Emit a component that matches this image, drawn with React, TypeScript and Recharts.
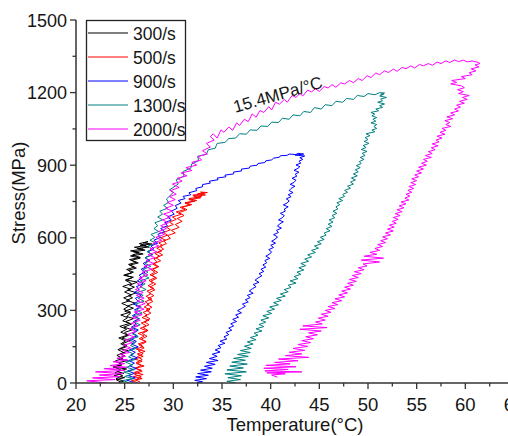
import { LineChart, Line, XAxis, YAxis, ReferenceDot } from 'recharts';

const rateLabels = ['300/s', '500/s', '900/s', '1300/s', '2000/s'];
const rateColors = ['#000000', '#ff0000', '#0000ff', '#008080', '#ff00ff'];

const xTicks = [20, 22.5, 25, 27.5, 30, 32.5, 35, 37.5, 40, 42.5, 45, 47.5, 50, 52.5, 55, 57.5, 60, 62.5, 65];
const yTicks = [0, 150, 300, 450, 600, 750, 900, 1050, 1200, 1350, 1500];

// [temperature °C, stress MPa], loading then unloading
const loop300 = [
  [24.6, 4], [24.1, 14], [25.0, 22], [23.9, 31], [24.9, 40], [24.2, 47], [25.2, 58], [23.8, 66], [24.7, 74], [24.4, 84],
  [25.3, 93], [24.3, 101], [25.0, 112], [24.6, 121], [25.4, 133], [24.5, 142], [25.2, 155], [24.8, 163], [25.6, 176], [24.7, 185],
  [25.4, 197], [25.0, 209], [25.8, 220], [24.9, 231], [25.7, 243], [25.1, 254], [25.9, 266], [25.2, 275], [25.6, 288], [25.0, 297],
  [25.9, 309], [25.3, 318], [26.1, 330], [25.2, 341], [25.8, 352], [25.4, 361], [26.2, 373], [25.3, 384], [26.0, 396], [25.5, 404],
  [26.3, 417], [25.1, 426], [25.9, 437], [24.9, 445], [25.7, 454], [25.4, 466], [26.2, 475], [25.5, 487], [26.4, 496], [25.7, 507],
  [26.6, 516], [25.6, 525], [26.9, 533], [25.9, 542], [27.1, 549], [26.3, 556], [27.5, 562], [26.6, 569], [27.8, 574], [26.9, 579],
  [27.4, 584], [26.5, 576], [27.2, 568], [26.0, 561], [26.9, 553], [25.6, 546], [26.5, 538], [25.8, 529], [26.6, 519], [25.5, 510],
  [26.2, 499], [25.4, 490], [26.0, 479], [25.2, 469], [25.9, 458], [25.0, 447], [25.8, 436], [25.1, 424], [25.7, 411], [24.8, 399],
  [25.6, 388], [25.0, 376], [25.7, 364], [24.9, 352], [25.5, 340], [24.7, 329], [25.4, 317], [24.9, 305], [25.6, 293], [24.6, 281],
  [25.3, 270], [24.8, 257], [25.5, 246], [24.5, 234], [25.2, 222], [24.6, 210], [25.3, 198], [24.4, 186], [25.1, 174], [24.6, 162],
  [25.2, 150], [24.3, 138], [24.9, 126], [24.2, 114], [24.8, 102], [24.0, 90], [24.7, 78], [23.9, 66], [24.6, 54], [24.0, 42],
  [24.8, 30], [24.1, 18], [24.9, 8], [24.4, 2],
];

const loop500 = [
  [26.3, 2], [25.7, 10], [26.8, 18], [25.9, 27], [26.9, 35], [26.0, 44], [26.7, 53], [26.1, 61], [27.0, 70], [26.2, 80],
  [26.8, 90], [26.0, 99], [26.9, 110], [26.3, 120], [27.1, 131], [26.2, 140], [26.9, 151], [26.4, 162], [27.2, 172], [26.5, 183],
  [27.0, 194], [26.4, 205], [27.3, 216], [26.6, 226], [27.2, 237], [26.7, 248], [27.5, 259], [26.8, 270], [27.3, 281], [26.9, 292],
  [27.6, 303], [27.0, 314], [27.5, 325], [27.1, 336], [27.8, 347], [27.2, 358], [27.7, 369], [27.3, 380], [28.0, 391], [27.4, 402],
  [27.9, 413], [27.5, 424], [28.2, 436], [27.6, 447], [28.1, 458], [27.7, 469], [28.4, 480], [27.9, 491], [28.3, 502], [28.0, 513],
  [28.6, 524], [28.1, 535], [28.8, 546], [28.3, 557], [28.9, 568], [28.5, 579], [29.2, 590], [28.7, 600], [29.4, 611], [29.0, 622],
  [29.7, 633], [29.3, 644], [30.0, 655], [29.6, 665], [30.3, 676], [29.9, 686], [30.8, 697], [30.3, 707], [31.2, 717], [30.7, 726],
  [31.7, 735], [31.2, 743], [32.2, 751], [31.6, 758], [32.8, 765], [32.1, 771], [33.3, 777], [32.5, 782], [33.5, 787], [32.8, 789],
  [33.2, 783], [32.0, 776], [32.9, 770], [31.6, 762], [32.4, 754], [31.2, 745], [31.9, 737], [30.9, 727], [31.4, 716], [30.6, 704],
  [31.1, 692], [30.4, 680], [30.9, 668], [30.2, 655], [30.6, 643], [29.8, 631], [30.2, 620], [29.4, 609], [29.7, 598], [29.0, 587],
  [29.3, 576], [28.6, 565], [29.0, 553], [28.4, 541], [28.9, 529], [28.2, 517], [28.7, 505], [28.0, 493], [28.5, 481], [27.9, 469],
  [28.4, 457], [27.8, 445], [28.3, 433], [27.7, 421], [28.2, 409], [27.6, 397], [28.1, 385], [27.5, 373], [28.0, 361], [27.4, 349],
  [27.9, 337], [27.3, 325], [27.8, 313], [27.2, 301], [27.7, 289], [27.1, 277], [27.6, 265], [27.0, 253], [27.5, 241], [26.9, 229],
  [27.4, 217], [26.8, 205], [27.3, 193], [26.7, 181], [27.2, 169], [26.5, 157], [27.0, 145], [26.4, 133], [26.9, 121], [26.3, 109],
  [26.8, 97], [26.2, 85], [26.7, 73], [26.1, 61], [26.8, 49], [26.0, 37], [26.7, 25], [26.1, 13], [26.6, 4],
];

const loop900 = [
  [25.9, 3], [25.2, 12], [26.1, 21], [25.4, 30], [26.0, 40], [25.3, 50], [26.2, 60], [25.5, 71], [26.0, 82], [25.4, 93],
  [26.3, 104], [25.6, 115], [26.1, 127], [25.5, 138], [26.4, 149], [25.7, 161], [26.2, 172], [25.6, 184], [26.3, 195], [25.8, 207],
  [26.4, 219], [25.7, 231], [26.2, 242], [25.9, 254], [26.5, 266], [25.8, 278], [26.3, 290], [26.0, 302], [26.6, 314], [25.9, 326],
  [26.4, 338], [26.1, 350], [26.7, 362], [26.0, 374], [26.5, 386], [26.2, 398], [26.9, 410], [26.3, 422], [26.8, 434], [26.5, 446],
  [27.1, 458], [26.7, 470], [27.3, 482], [26.9, 494], [27.5, 506], [27.1, 518], [27.8, 530], [27.4, 542], [28.0, 554], [27.7, 566],
  [28.4, 578], [28.0, 590], [28.7, 602], [28.4, 614], [29.1, 626], [28.7, 638], [29.4, 650], [29.1, 662], [29.8, 674], [29.4, 686],
  [30.1, 698], [29.8, 710], [30.4, 722], [30.2, 733], [30.8, 744], [30.5, 754], [31.2, 762], [31.0, 771], [31.8, 778], [31.6, 786],
  [32.4, 795], [32.3, 804], [33.0, 811], [33.0, 820], [33.8, 826], [33.7, 834], [34.6, 840], [34.5, 847], [35.4, 852], [35.3, 859],
  [36.2, 864], [36.2, 872], [37.0, 876], [37.0, 884], [37.8, 888], [37.9, 896], [38.6, 900], [38.7, 907], [39.4, 911], [39.5, 918],
  [40.1, 922], [40.3, 929], [40.9, 933], [41.0, 939], [41.7, 941], [41.9, 946], [42.6, 944], [42.8, 949], [43.4, 946], [42.5, 942],
  [43.5, 938], [43.0, 931], [43.3, 924], [42.9, 916], [43.1, 909], [42.6, 901], [43.0, 894], [42.8, 887], [42.4, 879], [42.9, 871],
  [42.5, 862], [42.7, 855], [42.2, 846], [42.6, 838], [42.4, 829], [42.0, 821], [42.5, 813], [42.1, 804], [41.9, 795], [42.3, 787],
  [41.8, 778], [42.1, 770], [41.6, 761], [41.9, 753], [41.7, 744], [41.3, 736], [41.8, 728], [41.4, 719], [41.5, 710], [41.0, 701],
  [41.4, 692], [41.2, 683], [40.8, 674], [41.3, 666], [40.9, 657], [40.7, 648], [41.1, 640], [40.6, 631], [40.8, 622], [40.3, 613],
  [40.7, 604], [40.5, 595], [40.1, 586], [40.5, 578], [40.0, 569], [40.3, 560], [39.8, 551], [40.1, 542], [39.9, 533], [39.5, 524],
  [39.9, 515], [39.4, 506], [39.6, 497], [39.2, 488], [39.5, 479], [39.0, 470], [39.3, 461], [38.8, 452], [39.1, 443], [38.7, 434],
  [38.4, 425], [38.8, 416], [38.2, 407], [38.5, 398], [38.1, 389], [37.8, 380], [38.2, 371], [37.6, 362], [37.9, 353], [37.4, 344],
  [37.7, 335], [37.1, 326], [37.4, 317], [37.0, 308], [36.6, 299], [37.0, 290], [36.4, 281], [36.7, 272], [36.1, 263], [36.5, 254],
  [35.9, 245], [36.2, 236], [35.7, 227], [36.0, 218], [35.4, 209], [35.7, 200], [35.2, 191], [35.5, 182], [34.8, 173], [35.3, 164],
  [34.6, 155], [34.9, 146], [34.3, 137], [34.8, 128], [34.0, 119], [34.5, 110], [33.7, 101], [34.6, 93], [33.4, 85], [34.3, 77],
  [33.2, 69], [34.0, 61], [32.8, 53], [33.9, 46], [32.5, 39], [33.6, 32], [32.3, 25], [33.4, 18], [32.2, 11], [33.0, 5], [32.4, 1],
];

const loop1300 = [
  [25.4, 2], [24.8, 10], [25.9, 18], [25.0, 27], [25.7, 36], [24.9, 45], [26.0, 55], [25.2, 65], [25.8, 75], [25.1, 86],
  [26.1, 97], [25.4, 108], [25.9, 120], [25.3, 131], [26.2, 143], [25.6, 155], [26.1, 167], [25.5, 179], [26.4, 191], [25.8, 203],
  [26.3, 215], [25.7, 228], [26.6, 240], [26.0, 252], [26.5, 265], [25.9, 277], [26.8, 289], [26.2, 301], [26.7, 314], [26.1, 326],
  [27.0, 338], [26.4, 350], [26.9, 362], [26.3, 374], [27.2, 386], [26.6, 398], [27.1, 410], [26.6, 422], [27.5, 434], [26.9, 446],
  [27.4, 458], [26.9, 470], [27.7, 482], [27.1, 494], [27.6, 506], [27.1, 518], [27.9, 530], [27.3, 542], [27.8, 554], [27.4, 566],
  [28.2, 578], [27.6, 590], [28.1, 602], [27.7, 614], [28.5, 626], [28.0, 638], [28.4, 650], [28.1, 662], [28.9, 674], [28.4, 686],
  [28.9, 698], [28.6, 710], [29.4, 722], [29.0, 734], [29.5, 746], [29.3, 760], [30.0, 788], [29.6, 798], [30.5, 822], [30.3, 840],
  [31.1, 855], [31.0, 874], [31.8, 888], [31.9, 906], [32.6, 918], [32.5, 936], [33.4, 946], [33.6, 964], [34.3, 970], [34.5, 990],
  [35.3, 994], [35.7, 1010], [36.4, 1012], [36.8, 1030], [37.5, 1028], [37.9, 1046], [38.6, 1044], [39.0, 1062], [39.7, 1060], [40.1, 1078],
  [40.8, 1076], [41.2, 1094], [41.9, 1090], [42.3, 1108], [43.0, 1104], [43.4, 1122], [44.1, 1118], [44.5, 1138], [45.2, 1132], [45.6, 1150],
  [46.3, 1146], [46.7, 1164], [47.4, 1160], [47.8, 1176], [48.5, 1172], [48.9, 1188], [49.6, 1184], [50.0, 1196], [50.7, 1191], [51.2, 1200],
  [51.7, 1198], [51.3, 1193], [51.6, 1193], [51.2, 1186], [51.9, 1180], [51.3, 1173], [51.5, 1166], [51.0, 1160], [51.7, 1153], [51.2, 1146],
  [51.5, 1139], [50.8, 1132], [51.1, 1125], [50.3, 1118], [50.7, 1111], [50.4, 1104], [50.9, 1097], [50.5, 1090], [50.8, 1082], [50.3, 1075],
  [50.9, 1068], [50.6, 1060], [50.9, 1052], [50.4, 1045], [50.7, 1038], [49.8, 1030], [50.2, 1022], [49.7, 1014], [50.0, 1006], [49.6, 998],
  [50.1, 990], [49.5, 981], [49.8, 973], [49.3, 965], [49.9, 957], [49.4, 949], [49.7, 940], [49.2, 932], [49.6, 924], [49.1, 915],
  [49.3, 907], [48.8, 898], [49.2, 890], [48.7, 881], [49.0, 873], [48.5, 864], [48.9, 856], [48.3, 847], [48.7, 839], [48.2, 830],
  [48.5, 822], [47.9, 813], [48.2, 805], [47.6, 796], [47.9, 788], [47.4, 779], [47.6, 771], [47.0, 762], [47.4, 754], [46.8, 745],
  [47.1, 737], [46.7, 728], [46.9, 719], [46.4, 710], [46.8, 701], [46.3, 692], [46.6, 683], [46.0, 674], [46.4, 665], [45.9, 656],
  [46.3, 647], [45.7, 638], [46.1, 629], [45.5, 620], [45.7, 611], [45.1, 602], [45.5, 593], [44.8, 584], [45.2, 575], [44.5, 566],
  [44.9, 557], [44.2, 548], [44.6, 539], [43.8, 530], [44.2, 521], [43.5, 512], [43.9, 503], [43.1, 494], [43.6, 485], [42.9, 476],
  [43.4, 467], [42.7, 458], [43.1, 449], [42.4, 440], [42.8, 431], [42.0, 422], [42.6, 413], [41.8, 404], [42.1, 395], [41.4, 386],
  [41.8, 377], [41.0, 368], [41.5, 359], [40.6, 350], [41.1, 341], [40.3, 332], [40.8, 323], [39.9, 314], [40.4, 305], [39.6, 296],
  [40.1, 287], [39.2, 278], [39.8, 269], [39.0, 260], [39.5, 251], [38.8, 242], [39.3, 233], [38.5, 224], [39.1, 215], [38.3, 206],
  [38.7, 197], [37.9, 188], [38.5, 179], [37.6, 170], [38.2, 161], [37.3, 152], [38.0, 143], [36.9, 134], [37.9, 126], [36.6, 118],
  [37.7, 110], [36.2, 102], [37.4, 94], [36.0, 86], [37.6, 78], [35.8, 70], [37.2, 62], [35.5, 54], [37.5, 46], [35.3, 38],
  [37.0, 30], [35.6, 22], [36.9, 14], [35.5, 7], [36.4, 1],
];

const loop2000 = [
  [23.2, 0], [21.1, 9], [24.0, 14], [21.7, 21], [24.5, 26], [22.4, 33], [24.8, 39], [22.0, 46], [25.0, 52], [22.9, 59],
  [25.2, 65], [23.5, 72], [25.0, 80], [23.8, 88], [25.3, 95], [24.2, 102], [25.1, 110], [24.5, 118], [25.5, 126], [24.8, 135],
  [25.6, 145], [24.9, 156], [25.8, 167], [25.1, 178], [26.0, 190], [25.3, 201], [26.2, 213], [25.5, 224], [26.4, 236], [25.7, 247],
  [26.6, 259], [25.8, 270], [26.8, 282], [26.0, 293], [27.0, 305], [26.2, 316], [27.1, 328], [26.3, 339], [27.0, 351], [26.2, 362],
  [26.9, 374], [26.1, 386], [26.8, 398], [26.3, 410], [27.2, 422], [26.5, 434], [27.4, 446], [26.8, 458], [27.8, 470], [27.0, 482],
  [28.0, 494], [27.2, 506], [28.1, 518], [27.4, 530], [28.3, 542], [27.6, 554], [28.5, 566], [27.9, 578], [28.8, 590], [28.2, 602],
  [29.1, 614], [28.5, 626], [29.3, 638], [28.7, 650], [29.5, 662], [28.9, 674], [29.7, 686], [29.0, 698], [29.9, 710], [29.2, 722],
  [30.0, 734], [29.4, 746], [30.2, 758], [29.6, 770], [30.3, 780], [29.7, 795], [30.6, 808], [29.9, 822], [30.9, 834], [30.4, 846],
  [31.4, 856], [30.8, 868], [31.9, 878], [31.3, 890], [32.4, 900], [31.9, 912], [32.9, 922], [32.5, 936], [33.5, 946], [33.0, 960],
  [33.8, 975], [33.4, 990], [34.2, 1004], [33.8, 1018], [34.1, 1030], [34.5, 1012], [34.9, 1046], [35.2, 1036], [35.7, 1058], [36.1, 1044],
  [36.5, 1075], [36.8, 1064], [37.3, 1090], [37.7, 1080], [38.1, 1112], [38.5, 1098], [38.9, 1126], [39.3, 1118], [39.8, 1142], [40.1, 1128],
  [40.5, 1160], [40.9, 1152], [41.4, 1172], [41.7, 1160], [42.2, 1188], [42.6, 1180], [43.0, 1196], [43.3, 1186], [43.8, 1210], [44.2, 1203],
  [44.6, 1216], [45.0, 1205], [45.5, 1225], [45.9, 1219], [46.3, 1233], [46.7, 1222], [47.2, 1240], [47.6, 1236], [48.1, 1250], [48.5, 1241],
  [49.0, 1258], [49.4, 1250], [49.9, 1270], [50.3, 1262], [50.8, 1281], [51.2, 1274], [51.7, 1290], [52.1, 1283], [52.6, 1297], [53.0, 1288],
  [53.5, 1304], [53.9, 1299], [54.4, 1310], [54.8, 1302], [55.3, 1316], [55.7, 1311], [56.2, 1320], [56.6, 1313], [57.1, 1326], [57.5, 1320],
  [58.0, 1331], [58.4, 1324], [58.9, 1335], [59.3, 1328], [59.8, 1334], [60.2, 1327], [60.7, 1331], [61.3, 1325], [61.5, 1320],
  [61.0, 1314], [61.4, 1306], [60.6, 1298], [61.1, 1290], [60.4, 1282], [60.7, 1274], [59.6, 1266], [60.0, 1258], [58.6, 1250], [59.1, 1242],
  [58.5, 1236], [59.6, 1228], [59.9, 1220], [59.2, 1212], [59.8, 1204], [59.3, 1196], [60.4, 1188], [59.7, 1180], [60.2, 1172], [59.4, 1164],
  [59.9, 1156], [59.1, 1148], [59.5, 1140], [58.9, 1132], [59.3, 1124], [58.5, 1116], [58.9, 1108], [58.1, 1100], [58.7, 1092], [57.9, 1084],
  [58.4, 1076], [58.0, 1068], [58.5, 1060], [57.6, 1052], [58.0, 1044], [57.4, 1036], [57.9, 1028], [57.1, 1020], [57.6, 1012], [57.0, 1004],
  [57.3, 996], [56.6, 988], [57.2, 980], [56.5, 972], [56.9, 964], [56.2, 956], [56.6, 948], [55.9, 940], [56.5, 932], [55.7, 924],
  [56.1, 916], [55.5, 908], [56.0, 900], [55.2, 892], [55.7, 884], [55.0, 876], [55.5, 868], [54.8, 860], [55.2, 852], [54.5, 844],
  [55.0, 836], [54.4, 828], [54.9, 820], [54.2, 812], [54.7, 804], [54.1, 796], [54.5, 788], [53.9, 780], [54.3, 772], [53.8, 764],
  [54.2, 756], [53.4, 748], [53.9, 740], [53.2, 732], [53.7, 724], [53.0, 716], [53.5, 708], [52.8, 700], [53.3, 692], [52.6, 684],
  [53.1, 676], [52.5, 668], [52.9, 660], [52.2, 652], [52.7, 644], [52.0, 636], [52.6, 628], [51.8, 620], [52.3, 612], [51.5, 604],
  [52.0, 596], [51.3, 588], [51.8, 580], [51.0, 572], [51.5, 564], [50.7, 556], [51.2, 548], [50.2, 540], [50.9, 532], [49.6, 524],
  [51.6, 516], [49.3, 508], [51.2, 500], [49.5, 492], [49.9, 484], [49.0, 476], [49.6, 468], [48.6, 460], [49.3, 452], [48.4, 444],
  [49.0, 436], [48.1, 428], [48.8, 420], [47.9, 412], [48.5, 404], [47.6, 396], [48.2, 388], [47.3, 380], [47.9, 372], [47.0, 364],
  [47.6, 356], [46.6, 348], [47.3, 340], [46.3, 332], [46.9, 324], [45.9, 316], [46.6, 308], [45.6, 300], [46.2, 292], [45.2, 284],
  [45.9, 276], [44.9, 268], [45.6, 260], [44.6, 252], [45.3, 244], [43.3, 236], [45.8, 229], [43.0, 222], [45.2, 215], [43.9, 207],
  [44.8, 199], [43.6, 191], [44.4, 183], [43.2, 175], [44.1, 167], [42.8, 159], [43.8, 151], [42.3, 143], [43.5, 135], [41.9, 127],
  [43.2, 120], [41.5, 113], [43.9, 106], [40.8, 99], [42.8, 92], [40.4, 85], [42.0, 79], [39.5, 73], [42.6, 67], [39.3, 61],
  [41.8, 56], [39.4, 50], [43.2, 46], [39.6, 42], [41.5, 38], [40.1, 33], [40.7, 24],
];

const loops = [loop300, loop500, loop900, loop1300, loop2000];

const FONT = 'Arial, "Liberation Sans", sans-serif';
const INK = '#151515';
const AXIS = '#333333';

function toRows(pts: number[][]) {
  return pts.map(([t, s]) => ({ t, s }));
}

function XTick({ x, y, payload }: any) {
  const major = payload.value % 5 === 0;
  return (
    <g>
      <line x1={x} x2={x} y1={y} y2={y + (major ? 6 : 3.5)} stroke={AXIS} strokeWidth={1.3} />
      {major && (
        <text x={x} y={y + 28} textAnchor="middle" fontSize={18.5} fontFamily={FONT} fill={INK}>
          {payload.value}
        </text>
      )}
    </g>
  );
}

function YTick({ x, y, payload }: any) {
  const major = payload.value % 300 === 0;
  return (
    <g>
      <line x1={x} x2={x - (major ? 6 : 3.5)} y1={y} y2={y} stroke={AXIS} strokeWidth={1.3} />
      {major && (
        <text x={x - 9} y={y + 6.5} textAnchor="end" fontSize={18} fontFamily={FONT} fill={INK}>
          {payload.value}
        </text>
      )}
    </g>
  );
}

function XTitle({ viewBox }: any) {
  const cx = viewBox.x + viewBox.width / 2;
  return (
    <text x={cx} y={viewBox.y + 48} textAnchor="middle" fontSize={18.5} fontFamily={FONT} fill={INK}>
      Temperature(°C)
    </text>
  );
}

function YTitle({ viewBox }: any) {
  const x = viewBox.x + 25;
  const y = viewBox.y + 173;
  return (
    <text x={x} y={y} transform={`rotate(-90 ${x} ${y})`} textAnchor="middle" fontSize={18.5} fontFamily={FONT} fill={INK}>
      Stress(MPa)
    </text>
  );
}

function SlopeNote({ viewBox }: any) {
  const x = viewBox?.x ?? 0;
  const y = viewBox?.y ?? 0;
  return (
    <text x={x} y={y} transform={`rotate(-16 ${x} ${y})`} textAnchor="middle" fontSize={17} fontFamily={FONT} fill={INK}>
      15.4MPa/°C
    </text>
  );
}

function LegendBox() {
  return (
    <svg width={508} height={436} style={{ position: 'absolute', left: 0, top: 0, pointerEvents: 'none' }}>
      <rect x={86.5} y={20.5} width={99} height={120} fill="#ffffff" stroke="#222222" strokeWidth={1.3} />
      {rateLabels.map((name, i) => {
        const cy = 33 + i * 24;
        return (
          <g key={name}>
            <line x1={88} x2={128} y1={cy} y2={cy} stroke={rateColors[i]} strokeWidth={1.2} />
            <text x={133} y={cy + 6.5} fontSize={17.5} fontFamily={FONT} fill={INK}>
              {name}
            </text>
          </g>
        );
      })}
    </svg>
  );
}

export default function App() {
  return (
    <div style={{ position: 'fixed', left: 0, top: 0, width: 508, height: 436, overflow: 'hidden', background: '#fff' }}>
      <LineChart width={560} height={436} margin={{ top: 20, right: 46, bottom: 0, left: 0 }}>
        <XAxis
          type="number"
          dataKey="t"
          domain={[20, 65]}
          ticks={xTicks}
          interval={0}
          allowDataOverflow
          height={53}
          tickSize={0}
          tickMargin={0}
          tickLine={false}
          axisLine={{ stroke: AXIS, strokeWidth: 1.5 }}
          tick={<XTick />}
          label={XTitle}
        />
        <YAxis
          type="number"
          dataKey="s"
          domain={[0, 1500]}
          ticks={yTicks}
          interval={0}
          allowDataOverflow
          width={76}
          tickSize={0}
          tickMargin={0}
          tickLine={false}
          axisLine={{ stroke: AXIS, strokeWidth: 1.5 }}
          tick={<YTick />}
          label={YTitle}
        />
        {loops.map((pts, i) => (
          <Line
            key={rateLabels[i]}
            data={toRows(pts)}
            dataKey="s"
            type="linear"
            stroke={rateColors[i]}
            strokeWidth={1}
            dot={false}
            activeDot={false}
            isAnimationActive={false}
          />
        ))}
        <ReferenceDot x={40.9} y={1169} r={0} fill="none" stroke="none" label={SlopeNote} />
      </LineChart>
      <LegendBox />
    </div>
  );
}
